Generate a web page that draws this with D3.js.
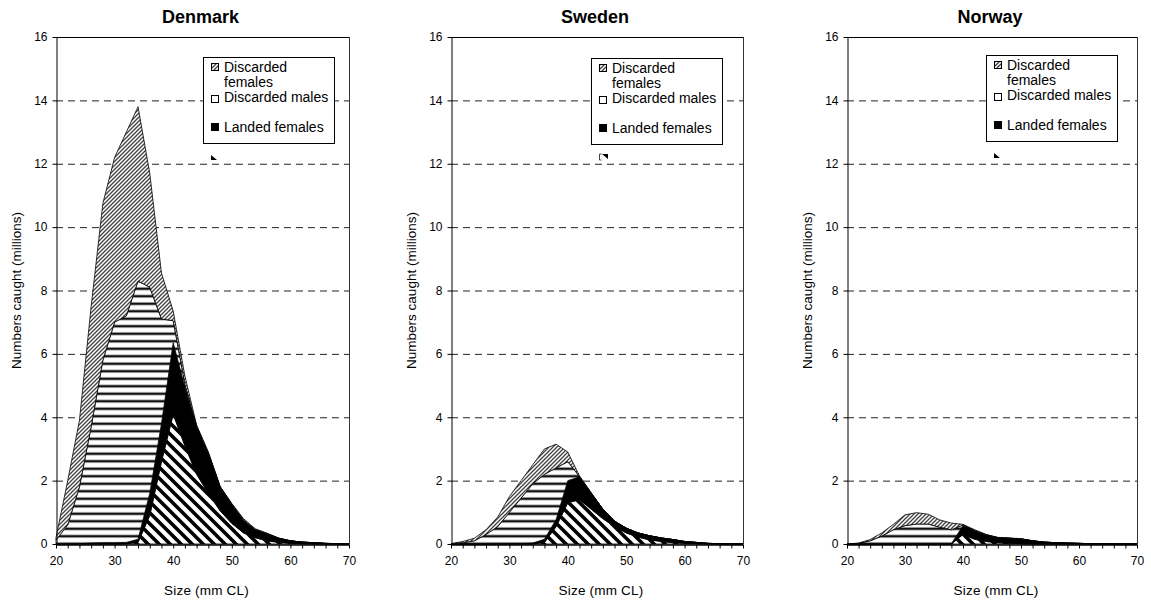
<!DOCTYPE html>
<html>
<head>
<meta charset="utf-8">
<script src="https://cdn.jsdelivr.net/npm/d3@7"></script>
<style>
  body { margin: 0; background: #fff; }
  svg { display: block; }
  text { font-family: "Liberation Sans", Arial, sans-serif; fill: #000; }
</style>
</head>
<body>
<svg id="chart" width="1151" height="603"></svg>
<script>
// Carapace length classes (mm CL)
const sizes = [20,22,24,26,28,30,32,34,36,38,40,42,44,46,48,50,52,54,56,58,60,62,64,66,68,70];

// Series, stacked from the bottom up
const seriesKeys = ["Landed males", "Landed females", "Discarded males", "Discarded females"];
const legendKeys = ["Discarded females", "Discarded males", "Landed females"];

// Numbers caught (millions) per size class
const denmarkLandedMales      = [0,0,0,0,0,0,0.01,0.05,0.9,2.6,4.1,3.1,2.2,1.6,1.05,0.65,0.35,0.2,0.1,0.05,0.02,0.01,0,0,0,0];
const denmarkLandedFemales    = [0,0,0.01,0.03,0.04,0.04,0.04,0.1,0.7,1.2,2.25,1.85,1.5,1.25,0.75,0.6,0.4,0.25,0.22,0.13,0.08,0.05,0.04,0.02,0.01,0];
const denmarkDiscardedMales   = [0.13,0.6,1.79,3.67,5.76,6.96,7.15,8.15,6.5,3.3,0.7,0.1,0.02,0.02,0.01,0.01,0.01,0.01,0.01,0,0,0,0,0,0,0];
const denmarkDiscardedFemales = [0.07,1.4,2.1,3.8,4.95,5.2,5.8,5.5,3.6,1.45,0.3,0.25,0.03,0.03,0.01,0.02,0.04,0.02,0.01,0.01,0,0,0,0,0,0];

const swedenLandedMales      = [0,0,0,0,0,0,0,0,0.05,0.55,1.3,1.4,1.1,0.8,0.55,0.35,0.22,0.13,0.08,0.04,0.02,0.01,0,0,0,0];
const swedenLandedFemales    = [0,0,0,0,0,0.01,0.01,0.03,0.1,0.22,0.7,0.72,0.5,0.3,0.17,0.15,0.13,0.13,0.11,0.1,0.06,0.04,0.02,0.01,0,0];
const swedenDiscardedMales   = [0.01,0.04,0.1,0.3,0.55,0.99,1.44,1.87,2.05,1.63,0.6,0.01,0.01,0,0,0,0,0,0,0,0,0,0,0,0,0];
const swedenDiscardedFemales = [0,0.04,0.08,0.15,0.3,0.5,0.55,0.6,0.8,0.75,0.3,0.02,0.01,0,0,0,0,0,0,0,0,0,0,0,0,0];

const norwayLandedMales      = [0,0,0,0,0,0,0,0,0,0,0.3,0.15,0.08,0.04,0.02,0.01,0,0,0,0,0,0,0,0,0,0];
const norwayLandedFemales    = [0,0,0,0,0,0,0,0,0,0.01,0.28,0.27,0.2,0.16,0.16,0.15,0.1,0.06,0.04,0.03,0.02,0.01,0.01,0,0,0];
const norwayDiscardedMales   = [0,0.02,0.1,0.25,0.45,0.58,0.63,0.63,0.53,0.44,0.02,0.01,0.01,0,0,0,0,0,0,0,0,0,0,0,0,0];
const norwayDiscardedFemales = [0,0.01,0.04,0.1,0.17,0.34,0.36,0.31,0.23,0.21,0.02,0.02,0.01,0.01,0.01,0.01,0,0,0,0,0,0,0,0,0,0];

// Axis ticks
const yTicks = [0,2,4,6,8,10,12,14,16];
const gridValues = [2,4,6,8,10,12,14];
const xTicks = [20,22,24,26,28,30,32,34,36,38,40,42,44,46,48,50,52,54,56,58,60,62,64,66,68,70];
const xLabels = [20,30,40,50,60,70];

const countries = [
  { name: "Denmark", series: [denmarkLandedMales, denmarkLandedFemales, denmarkDiscardedMales, denmarkDiscardedFemales] },
  { name: "Sweden",  series: [swedenLandedMales, swedenLandedFemales, swedenDiscardedMales, swedenDiscardedFemales] },
  { name: "Norway",  series: [norwayLandedMales, norwayLandedFemales, norwayDiscardedMales, norwayDiscardedFemales] }
];

// Panel layout; "corner" is the clipped fourth legend key below each box
const layout = [
  { left: 56,  right: 349,  legendX: 203, legendY: 57, corner: "M8,98 L8,103 L14,103 Z", bracket: false },
  { left: 451, right: 743,  legendX: 591, legendY: 58, corner: "M11,96 L17,96 L17,101 Z", bracket: true },
  { left: 847, right: 1137, legendX: 986, legendY: 55, corner: "M8,98 L8,103 L14,103 Z", bracket: false }
];
const plotTop = 37, plotBottom = 544;

const svg = d3.select("#chart");
const defs = svg.append("defs");

// Fill patterns
const pDF = defs.append("pattern").attr("id", "pat-df").attr("patternUnits", "userSpaceOnUse")
  .attr("width", 4).attr("height", 4);
pDF.append("rect").attr("width", 4).attr("height", 4).attr("fill", "#fff");
pDF.append("path").attr("d", "M-1,1 L1,-1 M0,4 L4,0 M3,5 L5,3")
  .attr("stroke", "#404040").attr("stroke-width", 1.3);

const pDM = defs.append("pattern").attr("id", "pat-dm").attr("patternUnits", "userSpaceOnUse")
  .attr("width", 8).attr("height", 7.5);
pDM.append("rect").attr("width", 8).attr("height", 7.5).attr("fill", "#fff");
pDM.append("rect").attr("y", 2.5).attr("width", 8).attr("height", 2.5).attr("fill", "#111");

const pLM = defs.append("pattern").attr("id", "pat-lm").attr("patternUnits", "userSpaceOnUse")
  .attr("width", 11).attr("height", 11);
pLM.append("rect").attr("width", 11).attr("height", 11).attr("fill", "#fff");
pLM.append("path").attr("d", "M0,0 L11,11 M-5.5,5.5 L5.5,16.5 M5.5,-5.5 L16.5,5.5")
  .attr("stroke", "#000").attr("stroke-width", 3.6);

const fills = {
  "Landed males": "url(#pat-lm)",
  "Landed females": "#000",
  "Discarded males": "url(#pat-dm)",
  "Discarded females": "url(#pat-df)"
};

countries.forEach((c, i) => {
  const L = layout[i];
  const g = svg.append("g");

  const x = d3.scaleLinear().domain([20, 70]).range([L.left, L.right]);
  const y = d3.scaleLinear().domain([0, 16]).range([plotBottom, plotTop]);

  // Gridlines
  g.append("g").selectAll("line").data(gridValues).join("line")
    .attr("x1", L.left).attr("x2", L.right)
    .attr("y1", d => y(d) + 0.5).attr("y2", d => y(d) + 0.5)
    .attr("stroke", "#222").attr("stroke-width", 1).attr("stroke-dasharray", "7,5");

  // Stacked areas
  const rows = sizes.map((s, k) => {
    const r = { size: s };
    seriesKeys.forEach((key, j) => { r[key] = c.series[j][k]; });
    return r;
  });
  const stacked = d3.stack().keys(seriesKeys)(rows);
  const area = d3.area()
    .x(d => x(d.data.size))
    .y0(d => y(d[0]))
    .y1(d => y(d[1]));

  g.append("g").selectAll("path").data(stacked).join("path")
    .attr("d", area)
    .attr("fill", d => fills[d.key])
    .attr("stroke", "#000")
    .attr("stroke-width", 0.8)
    .attr("stroke-linejoin", "round");

  // Frame: top and right
  g.append("line").attr("x1", L.left).attr("x2", L.right + 0.5)
    .attr("y1", plotTop + 0.5).attr("y2", plotTop + 0.5).attr("stroke", "#000");
  g.append("line").attr("x1", L.right + 0.5).attr("x2", L.right + 0.5)
    .attr("y1", plotTop).attr("y2", plotBottom).attr("stroke", "#333");

  // Y axis
  const yAxis = g.append("g").attr("transform", `translate(${L.left + 0.5},0)`)
    .call(d3.axisLeft(y).tickValues(yTicks).tickSize(4).tickSizeOuter(0).tickPadding(5));
  yAxis.selectAll("text").style("font-size", "12px").style("font-family", "'Liberation Sans', Arial, sans-serif");
  yAxis.select(".domain").attr("stroke", "#000");

  // X axis
  const xAxis = g.append("g").attr("transform", `translate(0,${plotBottom + 0.5})`)
    .call(d3.axisBottom(x).tickValues(xTicks).tickSize(4).tickSizeOuter(0).tickPadding(8)
      .tickFormat(d => xLabels.includes(d) ? d : ""));
  xAxis.selectAll("text").style("font-size", "12px").style("font-family", "'Liberation Sans', Arial, sans-serif");
  xAxis.select(".domain").attr("stroke", "#000").attr("stroke-width", 1.6);

  // Titles
  const cx = (L.left + L.right) / 2;
  g.append("text").attr("x", cx - 2).attr("y", 23).attr("text-anchor", "middle")
    .style("font-size", "18px").style("font-weight", "bold").text(c.name);
  g.append("text").attr("x", cx + 4).attr("y", 595).attr("text-anchor", "middle")
    .style("font-size", "13.5px").style("letter-spacing", "0.2px").text("Size (mm CL)");
  g.append("text")
    .attr("transform", `translate(${L.left - 35},${(plotTop + plotBottom) / 2}) rotate(-90)`)
    .attr("text-anchor", "middle").style("font-size", "13.5px").text("Numbers caught (millions)");

  // Legend
  const lg = g.append("g").attr("transform", `translate(${L.legendX},${L.legendY})`);
  lg.append("rect").attr("x", 0.5).attr("y", 0.5).attr("width", 131).attr("height", 86)
    .attr("fill", "#fff").attr("stroke", "#000").attr("stroke-width", 1);
  const rowsY = [
    { sw: 6,  lines: [14.5, 29.5] },
    { sw: 38, lines: [44.5] },
    { sw: 66, lines: [74.5] }
  ];
  const labelLines = {
    "Discarded females": ["Discarded", "females"],
    "Discarded males": ["Discarded males"],
    "Landed females": ["Landed females"]
  };
  legendKeys.forEach((key, j) => {
    const r = rowsY[j];
    lg.append("rect").attr("x", 8.5).attr("y", r.sw + 0.5).attr("width", 7).attr("height", 7)
      .attr("fill", key === "Discarded males" ? "#fff" : fills[key])
      .attr("stroke", "#000").attr("stroke-width", 1);
    labelLines[key].forEach((t, m) => {
      lg.append("text").attr("x", 21).attr("y", r.lines[m]).style("font-size", "14px").text(t);
    });
  });
  lg.append("path").attr("d", L.corner).attr("fill", "#000");
  if (L.bracket) {
    lg.append("path").attr("d", "M10.5,96 L8.5,96 L8.5,102 L10.5,102")
      .attr("fill", "none").attr("stroke", "#444").attr("stroke-width", 1);
  }
});
</script>
</body>
</html>
